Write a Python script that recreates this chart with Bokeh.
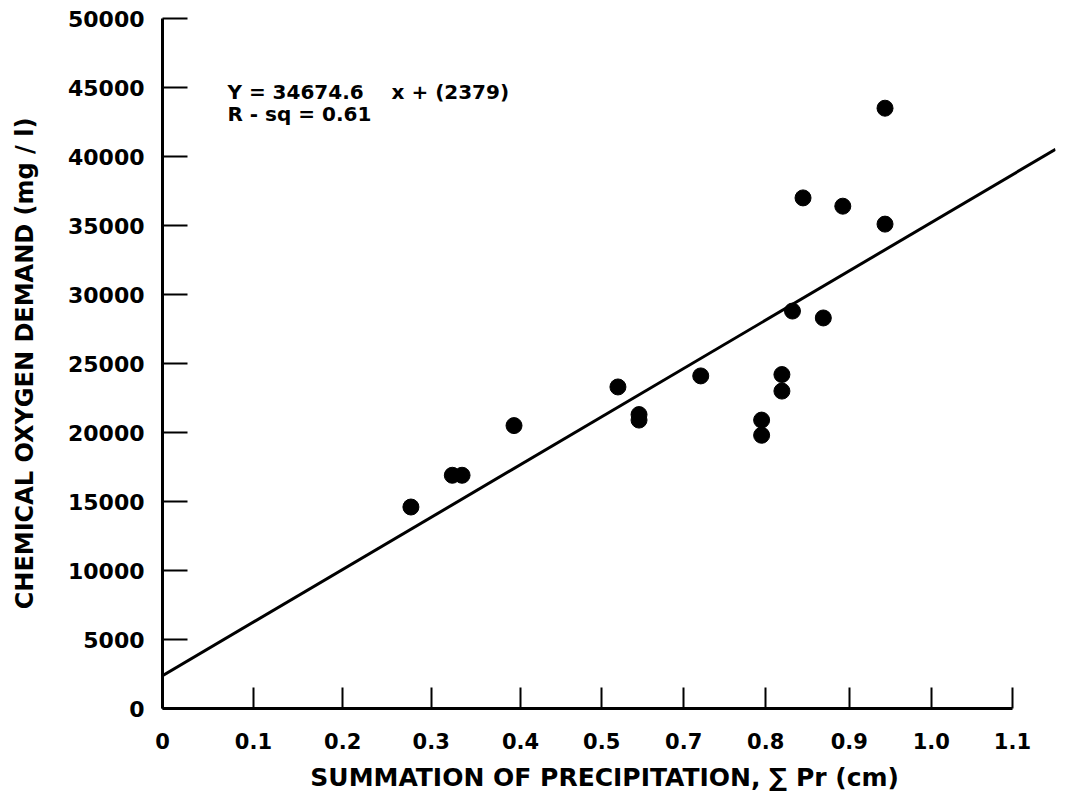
from bokeh.plotting import figure
from bokeh.models import Range1d, FixedTicker, Label, BasicTickFormatter
from bokeh.embed import file_html
from bokeh.resources import INLINE

# ---- data ----
precip = [0.306, 0.357, 0.369, 0.433, 0.561, 0.587, 0.587, 0.663, 0.738, 0.738,
          0.763, 0.763, 0.776, 0.789, 0.814, 0.838, 0.890, 0.890]
cod = [14600, 16900, 16900, 20500, 23300, 21300, 20900, 24100, 20900, 19800,
       24200, 23000, 28800, 37000, 28300, 36400, 35100, 43500]

slope = 34674.6
intercept = 2379
fit_x = [0.0, 1.1]

x_tick_values = [0, 0.112, 0.222, 0.331, 0.441, 0.541, 0.642, 0.743, 0.846, 0.947, 1.047]
x_tick_labels = ["0", "0.1", "0.2", "0.3", "0.4", "0.5", "0.7", "0.8", "0.9", "1.0", "1.1"]
y_tick_values = [0, 5000, 10000, 15000, 20000, 25000, 30000, 35000, 40000, 45000, 50000]

eq_text = "Y = 34674.6\u00a0\u00a0\u00a0 x + (2379)"
r2_text = "R - sq = 0.61"

FONT = "DejaVu Sans"

p = figure(width=1060, height=800, output_backend="svg", toolbar_location=None,
           x_range=Range1d(0, 1.1), y_range=Range1d(0, 50000),
           min_border_left=162, min_border_right=5, min_border_top=18, min_border_bottom=92)

p.outline_line_color = None
p.xgrid.grid_line_color = None
p.ygrid.grid_line_color = None
p.background_fill_color = "white"
p.border_fill_color = "white"

fit_y = [slope * x + intercept for x in fit_x]
p.line(fit_x, fit_y, line_color="black", line_width=3)
p.scatter(precip, cod, size=16, fill_color="black", line_color="black", marker="circle")

xa = p.xaxis[0]
xa.ticker = FixedTicker(ticks=x_tick_values)
xa.major_label_overrides = {v: l for v, l in zip(x_tick_values, x_tick_labels)}
xa.bounds = (0, x_tick_values[-1])
xa.axis_line_width = 3
xa.axis_line_color = "black"
xa.major_tick_in = 21
xa.major_tick_out = 0
xa.major_tick_line_width = 2
xa.minor_tick_line_color = None
xa.major_label_standoff = 24
xa.major_label_text_font = FONT
xa.major_label_text_font_size = "21px"
xa.major_label_text_font_style = "bold"
xa.major_label_text_color = "black"
xa.axis_label = "SUMMATION OF PRECIPITATION, \u2211 Pr  (cm)"
xa.axis_label_text_font = FONT
xa.axis_label_text_font_size = "25px"
xa.axis_label_text_font_style = "bold"
xa.axis_label_text_color = "black"
xa.axis_label_standoff = 11

ya = p.yaxis[0]
ya.ticker = FixedTicker(ticks=y_tick_values)
ya.formatter = BasicTickFormatter(use_scientific=False)
ya.bounds = (0, 50000)
ya.axis_line_width = 3
ya.axis_line_color = "black"
ya.major_tick_in = 25
ya.major_tick_out = 0
ya.major_tick_line_width = 2
ya.minor_tick_line_color = None
ya.major_label_standoff = 18
ya.major_label_text_font = FONT
ya.major_label_text_font_size = "22px"
ya.major_label_text_font_style = "bold"
ya.major_label_text_color = "black"
ya.axis_label = "CHEMICAL OXYGEN DEMAND (mg / l)"
ya.axis_label_text_font = FONT
ya.axis_label_text_font_size = "24px"
ya.axis_label_text_font_style = "bold"
ya.axis_label_text_color = "black"
ya.axis_label_standoff = 26

p.add_layout(Label(x=0.080, y=44700, text=eq_text, text_font=FONT, text_font_size="20px",
                   text_font_style="bold", text_baseline="middle", text_color="black"))
p.add_layout(Label(x=0.080, y=43100, text=r2_text, text_font=FONT, text_font_size="20px",
                   text_font_style="bold", text_baseline="middle", text_color="black"))

open("out.html", "w").write(file_html(p, INLINE))
